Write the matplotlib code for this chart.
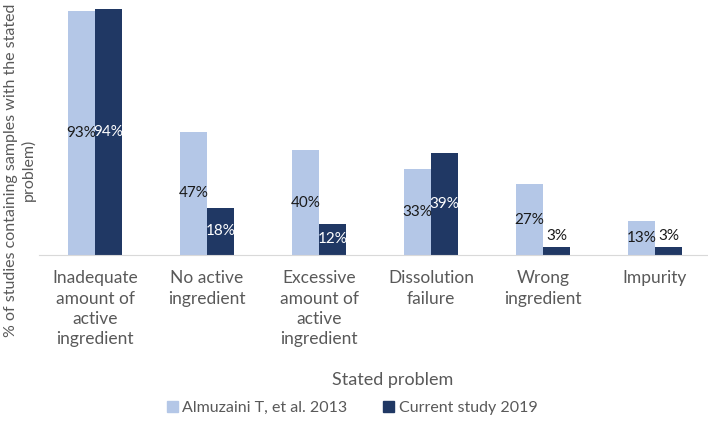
import numpy as np
import matplotlib.pyplot as plt
from matplotlib.patches import Patch

plt.rcParams['font.family'] = ['Lato', 'DejaVu Sans']

categories = ['Inadequate\namount of\nactive\ningredient', 'No active\ningredient',
              'Excessive\namount of\nactive\ningredient', 'Dissolution\nfailure',
              'Wrong\ningredient', 'Impurity']
almuzaini_2013 = [93, 47, 40, 33, 27, 13]
current_2019 = [94, 18, 12, 39, 3, 3]
series_names = ['Almuzaini T, et al. 2013', 'Current study 2019']

light = '#b4c7e7'
dark = '#203864'
grey = '#595959'

fig = plt.figure(figsize=(7.08, 4.25), dpi=100)
ax = fig.add_axes([39 / 708, 0.4, 672 / 708, 0.592])

x = np.arange(len(categories))
w = 0.24
b1 = ax.bar(x - w / 2, almuzaini_2013, w, color=light)
b2 = ax.bar(x + w / 2, current_2019, w, color=dark)

for rect, v in zip(b1, almuzaini_2013):
    ax.text(rect.get_x() + rect.get_width() / 2, v / 2, f'{v}%',
            ha='center', va='center', fontsize=11, color='#1a1a1a')
for rect, v in zip(b2, current_2019):
    cx = rect.get_x() + rect.get_width() / 2
    if v < 8:
        ax.text(cx, v + 1.5, f'{v}%', ha='center', va='bottom',
                fontsize=11, color='#1a1a1a')
    else:
        ax.text(cx, v / 2, f'{v}%', ha='center', va='center',
                fontsize=11, color='white')

ax.set_xlim(-0.5, len(categories) - 0.5)
ax.set_ylim(0, 96)
ax.set_yticks([])
ax.set_xticks(x)
ax.set_xticklabels(categories, fontsize=12.5, color=grey, linespacing=1.33)
ax.tick_params(axis='x', length=0, pad=11)
for s in ['top', 'right', 'left']:
    ax.spines[s].set_visible(False)
ax.spines['bottom'].set_color('#d9d9d9')

fig.text(393 / 708, 1 - 380 / 425, 'Stated problem', ha='center', va='center',
         fontsize=13, color=grey)
fig.text(20 / 708, 1 - 170 / 425,
         '% of studies containing samples with the stated\nproblem)',
         rotation=90, ha='center', va='center', fontsize=11.5, color=grey,
         multialignment='center', linespacing=1.2)

handles = [Patch(color=light), Patch(color=dark)]
fig.legend(handles, series_names, loc='center', bbox_to_anchor=(352 / 708, 1 - 408 / 425),
           ncol=2, frameon=False, fontsize=11.5, handlelength=0.7, handleheight=0.7,
           handletextpad=0.3, columnspacing=2.2, labelcolor=grey)

fig.savefig('out.png', dpi=100)
